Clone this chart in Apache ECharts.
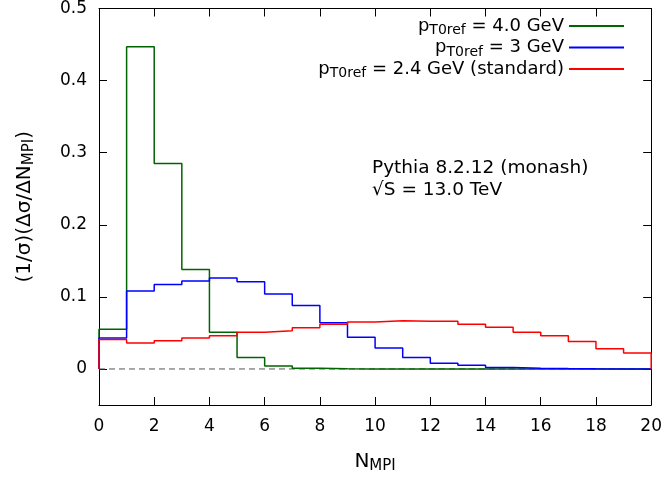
<!DOCTYPE html>
<html>
<head>
<meta charset="utf-8">
<script src="https://cdn.jsdelivr.net/npm/echarts@6/dist/echarts.min.js"></script>
<style>
  html, body { margin: 0; padding: 0; background: #fff; }
  #chart { width: 665px; height: 481px; }
</style>
</head>
<body>
<div id="chart"></div>
<script>
// N_MPI bins: [i, i+1) for i = 0..19
const binCount = 20
const xTicks = [0, 2, 4, 6, 8, 10, 12, 14, 16, 18, 20]
const yTicks = [0, 0.1, 0.2, 0.3, 0.4, 0.5]

// p_T0ref = 4.0 GeV
const green = [0.055, 0.447, 0.285, 0.138, 0.051, 0.016, 0.004, 0.001, 0.0004, 0.0001,
  0, 0, 0, 0, 0, 0, 0, 0, 0, 0]
// p_T0ref = 3 GeV
const blue = [0.043, 0.108, 0.117, 0.122, 0.126, 0.121, 0.104, 0.088, 0.064, 0.044,
  0.029, 0.016, 0.008, 0.005, 0.002, 0.001, 0.0005, 0.0002, 0.0001, 0.0001]
// p_T0ref = 2.4 GeV (standard)
const red = [0.041, 0.036, 0.039, 0.043, 0.046, 0.051, 0.053, 0.057, 0.062, 0.065,
  0.067, 0.066, 0.066, 0.062, 0.058, 0.051, 0.046, 0.038, 0.028, 0.022]

const names = [
  'p_T0ref = 4.0 GeV',
  'p_T0ref = 3 GeV',
  'p_T0ref = 2.4 GeV (standard)'
]
const legendText = {
  'p_T0ref = 4.0 GeV': '{n|p}{s|T0ref}{n| = 4.0 GeV}',
  'p_T0ref = 3 GeV': '{n|p}{s|T0ref}{n| = 3 GeV}',
  'p_T0ref = 2.4 GeV (standard)': '{n|p}{s|T0ref}{n| = 2.4 GeV (standard)}'
}

const font = 'DejaVu Sans'

// histeps: start at 0, step through bins, drop back to 0
function histSteps(vals) {
  const pts = [[0, 0]]
  vals.forEach((v, i) => pts.push([i, v]))
  pts.push([binCount, vals[vals.length - 1]])
  pts.push([binCount, 0])
  return pts
}

function histSeries(name, vals, color) {
  return {
    name: name,
    type: 'line',
    step: 'end',
    data: histSteps(vals),
    showSymbol: false,
    symbol: 'none',
    color: color,
    lineStyle: { color: color, width: 1.5 },
    z: 3,
    animation: false
  }
}

// legend text
const legendRich = {
  n: { fontFamily: font, fontSize: 18, color: '#000' },
  s: { fontFamily: font, fontSize: 14, color: '#000', padding: [9, 0, 0, 0] }
}
// axis titles
const titleRich = {
  n: { fontFamily: font, fontSize: 20, color: '#000' },
  s: { fontFamily: font, fontSize: 15, color: '#000', padding: [10, 0, 0, 0] }
}

const chart = echarts.init(document.getElementById('chart'))

chart.setOption({
  backgroundColor: '#fff',
  animation: false,
  grid: { left: 99, right: 12, top: 7, bottom: 76 },
  legend: {
    data: names,
    orient: 'vertical',
    right: 36,
    top: 12,
    align: 'right',
    itemWidth: 55,
    itemHeight: 2,
    itemGap: 1,
    icon: 'rect',
    formatter: name => legendText[name],
    textStyle: { fontFamily: font, fontSize: 18, color: '#000', rich: legendRich }
  },
  xAxis: [{
    type: 'value',
    min: 0,
    max: 20,
    interval: 2,
    name: '{n|N}{s|MPI}',
    nameLocation: 'middle',
    nameGap: 44,
    nameTextStyle: { rich: titleRich },
    axisLine: { onZero: false, lineStyle: { color: '#000', width: 1 } },
    axisTick: { inside: true, length: 8, lineStyle: { color: '#000' } },
    axisLabel: { fontFamily: font, fontSize: 17, color: '#000', margin: 13 },
    splitLine: { show: false }
  }, {
    type: 'value',
    position: 'top',
    min: 0,
    max: 20,
    interval: 2,
    axisLine: { onZero: false, lineStyle: { color: '#000', width: 1 } },
    axisTick: { inside: true, length: 8, lineStyle: { color: '#000' } },
    axisLabel: { show: false },
    splitLine: { show: false }
  }],
  yAxis: [{
    type: 'value',
    min: -0.05,
    max: 0.5,
    name: '{n|(1/σ)(Δσ/ΔN}{s|MPI}{n|)}',
    nameLocation: 'middle',
    nameRotate: 90,
    nameGap: 62,
    nameTextStyle: { rich: titleRich },
    axisLine: { onZero: false, lineStyle: { color: '#000', width: 1 } },
    axisTick: { inside: true, length: 8, customValues: yTicks, lineStyle: { color: '#000' } },
    axisLabel: {
      customValues: yTicks,
      fontFamily: font, fontSize: 17, color: '#000', margin: 12,
      formatter: v => (v === 0 ? '0' : v.toFixed(1))
    },
    splitLine: { show: false }
  }, {
    type: 'value',
    position: 'right',
    min: -0.05,
    max: 0.5,
    axisLine: { onZero: false, lineStyle: { color: '#000', width: 1 } },
    axisTick: { inside: true, length: 8, customValues: yTicks, lineStyle: { color: '#000' } },
    axisLabel: { show: false },
    splitLine: { show: false }
  }],
  graphic: [{
    type: 'text',
    x: 372,
    y: 168,
    style: {
      text: 'Pythia 8.2.12 (monash)', font: '18.5px "DejaVu Sans"', fill: '#000',
      textVerticalAlign: 'middle'
    }
  }, {
    type: 'text',
    x: 372,
    y: 190,
    style: {
      text: '√S = 13.0 TeV', font: '18.5px "DejaVu Sans"', fill: '#000',
      textVerticalAlign: 'middle'
    }
  }],
  series: [
    {
      name: 'zero',
      type: 'line',
      data: [[0, 0], [binCount, 0]],
      symbol: 'none',
      lineStyle: { color: '#555', width: 1, type: [6, 4] },
      z: 1,
      silent: true
    },
    histSeries(names[0], green, '#006400'),
    histSeries(names[1], blue, '#0000ff'),
    histSeries(names[2], red, '#ff0000')
  ]
})
</script>
</body>
</html>
